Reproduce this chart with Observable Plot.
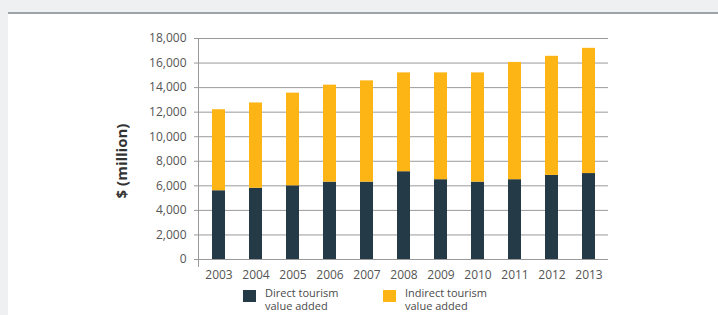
<!DOCTYPE html>
<html><head><meta charset="utf-8">
<script src="https://cdn.jsdelivr.net/npm/d3@7"></script>
<script src="https://cdn.jsdelivr.net/npm/@observablehq/plot@0.6"></script>
<style>
body{margin:0;background:#eef0f2;width:718px;height:315px;overflow:hidden;font-family:"Open Sans",sans-serif;position:relative;}
#panel{position:absolute;left:8px;top:12px;width:710px;height:303px;background:#fff;border-top:2px solid #9ea3a7;}
#chart{position:absolute;left:0;top:0;}
.sw{position:absolute;width:13px;height:12px;}
.lt{position:absolute;font-size:11px;line-height:12.5px;color:#4a4a4a;width:92px;}
</style></head>
<body>
<div id="panel"><div id="chart"></div></div>
<div id="legend"></div>
<script>
const years = ["2003","2004","2005","2006","2007","2008","2009","2010","2011","2012","2013"];
const direct = [5600,5800,6000,6300,6300,7150,6500,6300,6500,6850,7000];
const indirect = [6600,6950,7550,7900,8250,8050,8700,8900,9550,9700,10200];
const series = ["Direct tourism value added","Indirect tourism value added"];
const colors = ["#243a46","#fdb515"];
const yTicks = [0,2000,4000,6000,8000,10000,12000,14000,16000,18000];
const yLabel = "$ (million)";

const rows = [];
years.forEach((yr,i)=>{
  rows.push({year:yr, series:series[0], value:direct[i]});
  rows.push({year:yr, series:series[1], value:indirect[i]});
});

const chart = Plot.plot({
  width:710, height:268,
  marginTop:24, marginBottom:23, marginLeft:190, marginRight:110,
  style:{fontFamily:"Open Sans, sans-serif", fontSize:"12px", color:"#555", background:"transparent"},
  x:{domain:years, paddingInner:0.65, paddingOuter:0.32, label:null},
  y:{domain:[0,18000], label:null},
  color:{domain:series, range:colors},
  marks:[
    Plot.gridY(yTicks,{stroke:"#9a9a9a", strokeOpacity:1}),
    Plot.frame({anchor:"left", stroke:"#9a9a9a", insetBottom:-7}),
    Plot.axisY(yTicks,{tickSize:4, tickPadding:8, stroke:"#9a9a9a", label:null, tickFormat:d3.format(",")}),
    Plot.axisX({tickSize:0, tickPadding:11, label:null}),
    Plot.barY(rows,{x:"year", y:"value", fill:"series", order:series}),
    Plot.text([yLabel],{frameAnchor:"left", textAnchor:"middle", rotate:-90, dx:-76, dy:12, fontWeight:"bold", fontSize:15, fill:"#333"})
  ]
});
document.getElementById("chart").appendChild(chart);

const lg = document.getElementById("legend");
const swX = [243,383];
series.forEach((s,i)=>{
  const sw = document.createElement("div");
  sw.className="sw"; sw.style.left=swX[i]+"px"; sw.style.top="290px"; sw.style.background=colors[i];
  lg.appendChild(sw);
  const t = document.createElement("div");
  t.className="lt"; t.style.left=(swX[i]+22)+"px"; t.style.top="287px"; t.textContent=s;
  lg.appendChild(t);
});
</script>
</body></html>
